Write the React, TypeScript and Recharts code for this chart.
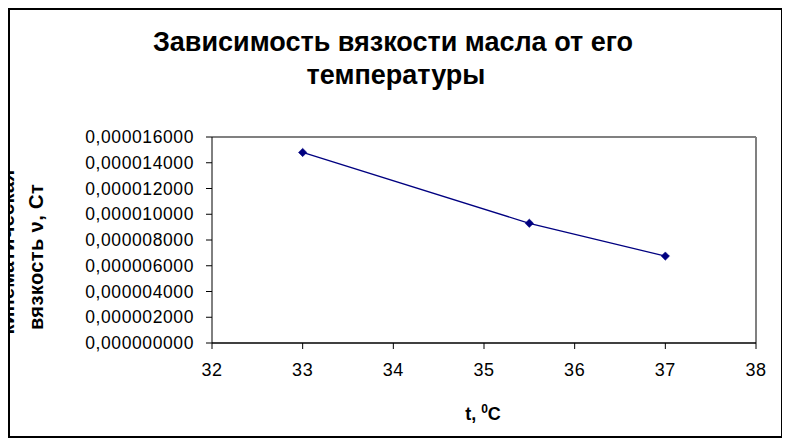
import React from 'react';
import { LineChart, Line, XAxis, YAxis, ReferenceLine } from 'recharts';

const temperatures = [33, 35.5, 37];
const viscosity = [0.0000148, 0.0000093, 0.00000675];
const xTicks = [32, 33, 34, 35, 36, 37, 38];
const yTicks = [0, 0.000002, 0.000004, 0.000006, 0.000008, 0.00001, 0.000012, 0.000014, 0.000016];
const titleLines = ['Зависимость вязкости масла от его', 'температуры'];
const yLabelLines = ['кинематическая', 'вязкость ν, Ст'];

const data = temperatures.map((t, i) => ({ t, v: viscosity[i] }));

const FONT = '"Liberation Sans", Arial, sans-serif';
const NAVY = '#000080';

const fmtY = (v: number) => v.toFixed(9).replace('.', ',');

const Diamond = (props: any) => {
  const { cx, cy } = props;
  if (cx == null || cy == null) return null;
  const r = 4.2;
  return <path d={`M${cx},${cy - r}L${cx + r},${cy}L${cx},${cy + r}L${cx - r},${cy}Z`} fill={NAVY} stroke={NAVY} strokeWidth={0.5} />;
};

export default function App() {
  return (
    <div style={{ position: 'relative', width: 790, height: 442, marginLeft: -8, marginTop: -8, background: '#fff' }}>
      <div style={{ position: 'absolute', left: 0, top: 0, zIndex: 1 }}>
        <LineChart
          width={790}
          height={442}
          data={data}
          margin={{ top: 137, right: 34, left: 62, bottom: 59 }}
        >
          <defs>
            <clipPath id="chartInner">
              <rect x={9} y={9} width={772} height={428} />
            </clipPath>
          </defs>
          <text x={393} y={51} textAnchor="middle" fontFamily={FONT} fontWeight="bold" fontSize={27} fill="#000">{titleLines[0]}</text>
          <text x={396} y={84} textAnchor="middle" fontFamily={FONT} fontWeight="bold" fontSize={27} fill="#000">{titleLines[1]}</text>
          <g clipPath="url(#chartInner)">
            <text transform="translate(14,252) rotate(-90)" textAnchor="middle" fontFamily={FONT} fontWeight="bold" fontSize={20} letterSpacing={0.4} fill="#000">{yLabelLines[0]}</text>
            <text transform="translate(42.5,257) rotate(-90)" textAnchor="middle" fontFamily={FONT} fontWeight="bold" fontSize={20} letterSpacing={0.4} fill="#000">{yLabelLines[1]}</text>
          </g>
          <text x={483} y={420} fontFamily={FONT} fontWeight="bold" fontSize={18} fill="#000" textAnchor="middle">
            t, <tspan dy={-7} fontSize={12}>0</tspan><tspan dy={7}>C</tspan>
          </text>
          <XAxis
            dataKey="t"
            type="number"
            domain={[32, 38]}
            ticks={xTicks}
            interval={0}
            height={40}
            tickSize={6}
            tickMargin={14}
            axisLine={{ stroke: '#000', strokeWidth: 1.3 }}
            tickLine={{ stroke: '#000', strokeWidth: 1 }}
            tick={{ fill: '#000', fontSize: 18, fontFamily: FONT, letterSpacing: 0.6 }}
            allowDataOverflow
          />
          <YAxis
            type="number"
            domain={[0, 0.000016]}
            ticks={yTicks}
            interval={0}
            width={150}
            tickSize={6}
            tickMargin={12}
            tickFormatter={fmtY}
            axisLine={{ stroke: '#000', strokeWidth: 1 }}
            tickLine={{ stroke: '#000', strokeWidth: 1 }}
            tick={{ fill: '#000', fontSize: 17.5, fontFamily: FONT, letterSpacing: 0.6 }}
            allowDataOverflow
          />
          <ReferenceLine y={0.000016} stroke="#808080" strokeWidth={2} />
          <ReferenceLine x={38} stroke="#808080" strokeWidth={2} />
          <Line
            dataKey="v"
            type="linear"
            stroke={NAVY}
            strokeWidth={1.3}
            dot={<Diamond />}
            activeDot={false}
            isAnimationActive={false}
          />
        </LineChart>
      </div>
      <div
        style={{
          position: 'absolute',
          left: 8,
          top: 8,
          width: 775,
          height: 430,
          border: '2px solid #000',
          boxSizing: 'border-box',
          pointerEvents: 'none',
          zIndex: 2,
        }}
      />
    </div>
  );
}
